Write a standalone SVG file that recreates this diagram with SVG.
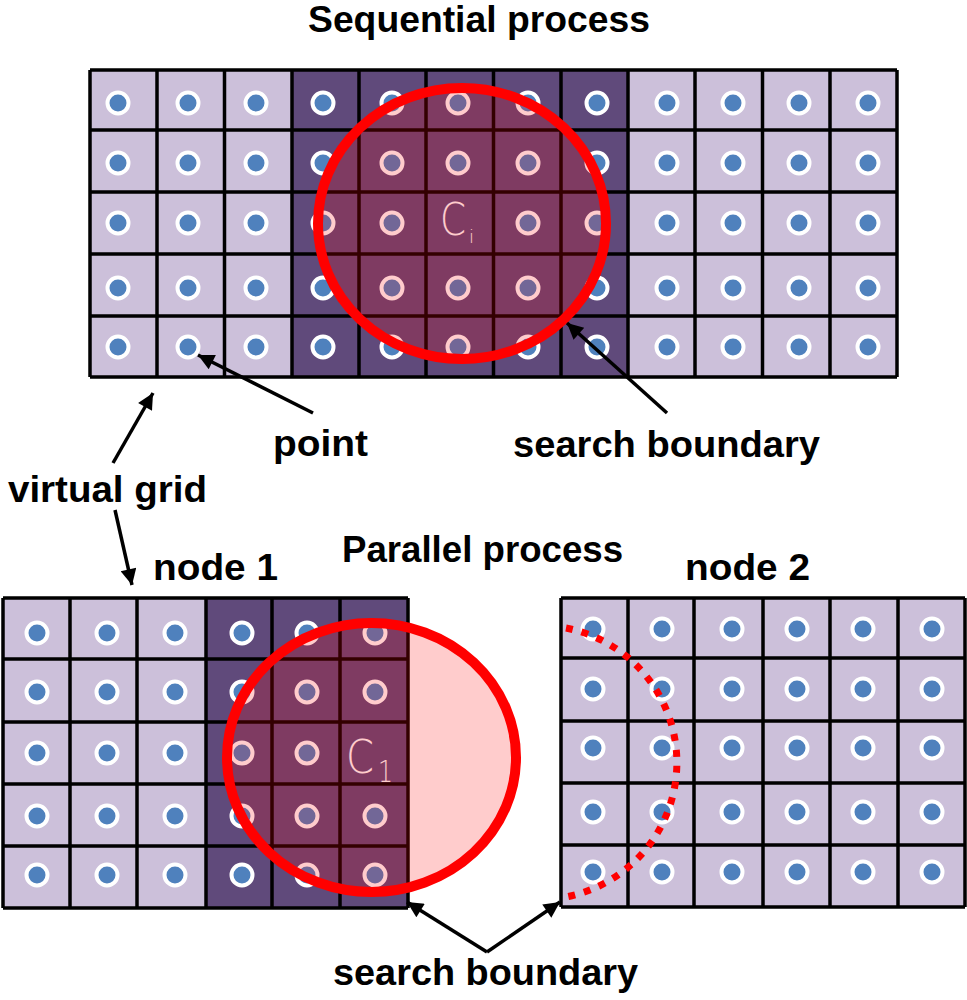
<svg xmlns="http://www.w3.org/2000/svg" xmlns:xlink="http://www.w3.org/1999/xlink" width="967" height="1000" viewBox="0 0 967 1000">
<style>
.lt{fill:#CCC0DA}
.dk{fill:#604A7B}
.gl{fill:none;stroke:#000;stroke-width:3.5}
.pt{fill:#4F81BD;stroke:#fff;stroke-width:4}
.sb{fill:#FF0000;fill-opacity:0.2;stroke:#FF0000;stroke-width:10}
.lbl{font-family:"Liberation Sans",Arial,sans-serif;font-weight:bold;font-size:37px;fill:#000}
.cl{font-family:"DejaVu Sans","Liberation Sans",sans-serif;font-weight:200;fill:#fff}
.ar{fill:none;stroke:#000;stroke-width:3.5}
</style>
<defs>
<marker id="ah" viewBox="0 0 10 10" refX="10" refY="5" markerWidth="20" markerHeight="16" markerUnits="userSpaceOnUse" orient="auto">
<path d="M0,0 L10,5 L0,10 z" fill="#000"/>
</marker>
<circle id="d" r="10.5" class="pt"/>
</defs>
<rect width="967" height="1000" fill="#fff"/>

<text class="lbl" x="308" y="32" textLength="342" lengthAdjust="spacingAndGlyphs">Sequential process</text>

<g id="grid-sequential">
<rect class="lt" x="90" y="70" width="807" height="307"/>
<rect class="dk" x="292" y="70" width="336" height="307"/>
<path class="gl" d="M90 70V377M157 70V377M224.5 70V377M292 70V377M359 70V377M426 70V377M493.5 70V377M561 70V377M628 70V377M695 70V377M762.5 70V377M830 70V377M897 70V377M90 70H897M90 130H897M90 192H897M90 254H897M90 316H897M90 377H897"/>
<g>
<use href="#d" x="118" y="103"/><use href="#d" x="188" y="103"/><use href="#d" x="256" y="103"/><use href="#d" x="323" y="103"/><use href="#d" x="392" y="103"/><use href="#d" x="458" y="103"/><use href="#d" x="528" y="103"/><use href="#d" x="597" y="103"/><use href="#d" x="667" y="103"/><use href="#d" x="733" y="103"/><use href="#d" x="799" y="103"/><use href="#d" x="868" y="103"/>
<use href="#d" x="118" y="163"/><use href="#d" x="188" y="163"/><use href="#d" x="256" y="163"/><use href="#d" x="323" y="163"/><use href="#d" x="392" y="163"/><use href="#d" x="458" y="163"/><use href="#d" x="528" y="163"/><use href="#d" x="597" y="163"/><use href="#d" x="667" y="163"/><use href="#d" x="733" y="163"/><use href="#d" x="799" y="163"/><use href="#d" x="868" y="163"/>
<use href="#d" x="118" y="223"/><use href="#d" x="188" y="223"/><use href="#d" x="256" y="223"/><use href="#d" x="323" y="223"/><use href="#d" x="392" y="223"/><use href="#d" x="528" y="223"/><use href="#d" x="597" y="223"/><use href="#d" x="667" y="223"/><use href="#d" x="733" y="223"/><use href="#d" x="799" y="223"/><use href="#d" x="868" y="223"/>
<use href="#d" x="118" y="288"/><use href="#d" x="188" y="288"/><use href="#d" x="256" y="288"/><use href="#d" x="323" y="288"/><use href="#d" x="392" y="288"/><use href="#d" x="458" y="288"/><use href="#d" x="528" y="288"/><use href="#d" x="597" y="288"/><use href="#d" x="667" y="288"/><use href="#d" x="733" y="288"/><use href="#d" x="799" y="288"/><use href="#d" x="868" y="288"/>
<use href="#d" x="118" y="347"/><use href="#d" x="188" y="347"/><use href="#d" x="256" y="347"/><use href="#d" x="323" y="347"/><use href="#d" x="392" y="347"/><use href="#d" x="458" y="347"/><use href="#d" x="528" y="347"/><use href="#d" x="597" y="347"/><use href="#d" x="667" y="347"/><use href="#d" x="733" y="347"/><use href="#d" x="799" y="347"/><use href="#d" x="868" y="347"/>
</g>
<text class="cl" x="440" y="235" font-size="44" textLength="26" lengthAdjust="spacingAndGlyphs">C</text>
<text class="cl" x="469" y="243" font-size="18">i</text>
<ellipse id="boundary-seq" class="sb" cx="462" cy="223.5" rx="144" ry="135.5"/>
</g>

<text class="lbl" x="273" y="456" textLength="95" lengthAdjust="spacingAndGlyphs">point</text>
<text class="lbl" x="513" y="457" textLength="307" lengthAdjust="spacingAndGlyphs">search boundary</text>
<text class="lbl" x="8" y="502" textLength="199" lengthAdjust="spacingAndGlyphs">virtual grid</text>
<text class="lbl" x="342" y="562" textLength="281" lengthAdjust="spacingAndGlyphs">Parallel process</text>
<text class="lbl" x="153" y="580" textLength="125" lengthAdjust="spacingAndGlyphs">node 1</text>
<text class="lbl" x="685" y="580" textLength="125" lengthAdjust="spacingAndGlyphs">node 2</text>
<text class="lbl" x="333" y="985" textLength="305" lengthAdjust="spacingAndGlyphs">search boundary</text>

<g id="grid-node1">
<rect class="lt" x="3" y="598" width="405" height="310"/>
<rect class="dk" x="206" y="598" width="202" height="310"/>
<path class="gl" d="M3 598V908M70 598V908M137 598V908M206 598V908M272 598V908M340 598V908M408 598V908M3 598H408M3 659H408M3 722H408M3 784H408M3 846H408M3 908H408"/>
<g>
<use href="#d" x="37" y="633"/><use href="#d" x="107" y="633"/><use href="#d" x="175" y="633"/><use href="#d" x="242" y="633"/><use href="#d" x="307" y="633"/><use href="#d" x="375" y="633"/>
<use href="#d" x="37" y="692"/><use href="#d" x="107" y="692"/><use href="#d" x="175" y="692"/><use href="#d" x="242" y="692"/><use href="#d" x="307" y="692"/><use href="#d" x="375" y="692"/>
<use href="#d" x="37" y="753"/><use href="#d" x="107" y="753"/><use href="#d" x="175" y="753"/><use href="#d" x="242" y="753"/><use href="#d" x="307" y="753"/>
<use href="#d" x="37" y="816"/><use href="#d" x="107" y="816"/><use href="#d" x="175" y="816"/><use href="#d" x="242" y="816"/><use href="#d" x="307" y="816"/><use href="#d" x="375" y="816"/>
<use href="#d" x="37" y="875"/><use href="#d" x="107" y="875"/><use href="#d" x="175" y="875"/><use href="#d" x="242" y="875"/><use href="#d" x="307" y="875"/><use href="#d" x="375" y="875"/>
</g>
<text class="cl" x="346" y="773" font-size="47" textLength="28" lengthAdjust="spacingAndGlyphs">C</text>
<text class="cl" x="378" y="782" font-size="30" textLength="15" lengthAdjust="spacingAndGlyphs">1</text>
<ellipse id="boundary-node1" class="sb" cx="371.5" cy="757.5" rx="144.5" ry="134.5"/>
</g>

<g id="grid-node2">
<rect class="lt" x="561" y="598" width="404" height="309"/>
<path class="gl" d="M561 598V907M628 598V907M694 598V907M763 598V907M830 598V907M898 598V907M965 598V907M561 598H965M561 658H965M561 721H965M561 783H965M561 845H965M561 907H965"/>
<g>
<use href="#d" x="593" y="629"/><use href="#d" x="662" y="629"/><use href="#d" x="732" y="629"/><use href="#d" x="797" y="629"/><use href="#d" x="863" y="629"/><use href="#d" x="932" y="629"/>
<use href="#d" x="593" y="689"/><use href="#d" x="662" y="689"/><use href="#d" x="732" y="689"/><use href="#d" x="797" y="689"/><use href="#d" x="863" y="689"/><use href="#d" x="932" y="689"/>
<use href="#d" x="593" y="748"/><use href="#d" x="662" y="748"/><use href="#d" x="732" y="748"/><use href="#d" x="797" y="748"/><use href="#d" x="863" y="748"/><use href="#d" x="932" y="748"/>
<use href="#d" x="593" y="812"/><use href="#d" x="662" y="812"/><use href="#d" x="732" y="812"/><use href="#d" x="797" y="812"/><use href="#d" x="863" y="812"/><use href="#d" x="932" y="812"/>
<use href="#d" x="593" y="872"/><use href="#d" x="662" y="872"/><use href="#d" x="732" y="872"/><use href="#d" x="797" y="872"/><use href="#d" x="863" y="872"/><use href="#d" x="932" y="872"/>
</g>
<path id="boundary-node2" d="M566 628 A137 137 0 0 1 560 898" fill="none" stroke="#FF0000" stroke-width="7" stroke-dasharray="7 9"/>
</g>

<g id="connectors">
<line class="ar" x1="313" y1="413" x2="198" y2="355" marker-end="url(#ah)"/>
<line class="ar" x1="667" y1="413" x2="567" y2="323" marker-end="url(#ah)"/>
<line class="ar" x1="113" y1="463" x2="153" y2="393" marker-end="url(#ah)"/>
<line class="ar" x1="115" y1="510" x2="132" y2="585" marker-end="url(#ah)"/>
<line class="ar" x1="487" y1="952" x2="407" y2="902" marker-end="url(#ah)"/>
<line class="ar" x1="487" y1="952" x2="560" y2="902" marker-end="url(#ah)"/>
</g>
</svg>
